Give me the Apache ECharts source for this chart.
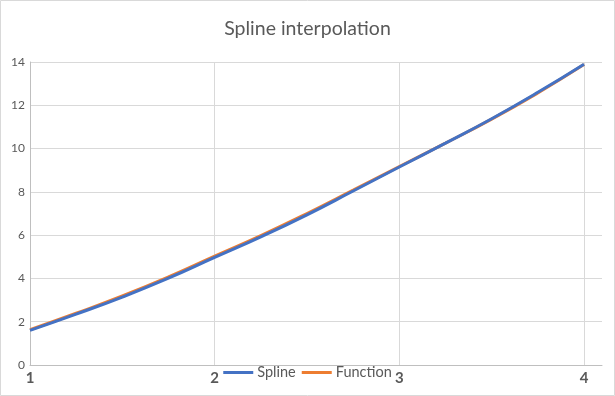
<!DOCTYPE html>
<html>
<head>
<meta charset="utf-8">
<script src="https://cdn.jsdelivr.net/npm/echarts@6/dist/echarts.min.js"></script>
<style>
html,body{margin:0;padding:0;background:#fff;}
#c{width:615px;height:396px;}
</style>
</head>
<body>
<div id="c"></div>
<script>
var titleText = 'Spline interpolation';
var xValues = [1, 1.25, 1.5, 1.75, 2, 2.25, 2.5, 2.75, 3, 3.25, 3.5, 3.75, 4];
var splineValues = [1.6, 2.35, 3.14, 4.01, 4.97, 5.92, 6.94, 8.04, 9.15, 10.25, 11.38, 12.6, 13.9];
var functionValues = [1.63, 2.39, 3.19, 4.07, 5.03, 5.98, 7.0, 8.08, 9.17, 10.25, 11.36, 12.57, 13.88];
var xTicks = [1, 2, 3, 4];
var yTicks = [0, 2, 4, 6, 8, 10, 12, 14];

function pairs(xs, ys){ return xs.map(function(x,i){ return [x, ys[i]]; }); }

var chart = echarts.init(document.getElementById('c'), null, {renderer:'canvas'});
var font = 'Lato, "Open Sans", sans-serif';
chart.setOption({
  animation:false,
  textStyle:{fontFamily:font},
  title:{text:titleText, left:'center', top:14,
    textStyle:{fontSize:19.5, fontWeight:'normal', color:'#595959', fontFamily:font}},
  graphic:[{type:'rect', silent:true, z:-10,
    shape:{x:0.5,y:0.5,width:614,height:395},
    style:{fill:null, stroke:'#d9d9d9', lineWidth:1}}],
  legend:{data:['Spline','Function'], left:'center', top:360,
    icon:'rect', itemWidth:30, itemHeight:3, itemGap:6,
    textStyle:{fontSize:14.5, color:'#595959', fontFamily:font, padding:[0,0,0,-1]}},
  grid:[
    {left:30, right:13, top:62, bottom:31},
    {left:30, right:31, top:62, bottom:31}
  ],
  xAxis:[
    {gridIndex:0, type:'value', min:1, max:4.1,
      axisLine:{show:true, lineStyle:{color:'#bfbfbf', width:1}},
      axisTick:{show:false}, axisLabel:{show:false}, splitLine:{show:false}},
    {gridIndex:1, type:'value', min:xTicks[0], max:xTicks[xTicks.length-1], interval:1,
      axisLine:{show:false}, axisTick:{show:false},
      axisLabel:{show:true, margin:6, fontSize:15, fontWeight:'bold', color:'#595959', fontFamily:font},
      splitLine:{show:true, lineStyle:{color:'#d9d9d9', width:1}}}
  ],
  yAxis:[
    {gridIndex:0, type:'value', min:yTicks[0], max:yTicks[yTicks.length-1], interval:2,
      axisLine:{show:true, lineStyle:{color:'#bfbfbf', width:1}},
      axisTick:{show:false},
      axisLabel:{margin:5, fontSize:12, color:'#595959', fontFamily:font},
      splitLine:{show:true, lineStyle:{color:'#d9d9d9', width:1}}},
    {gridIndex:1, type:'value', min:yTicks[0], max:yTicks[yTicks.length-1], show:false,
      splitLine:{show:false}}
  ],
  series:[
    {name:'Function', type:'line', xAxisIndex:1, yAxisIndex:1, smooth:true, showSymbol:false,
      data:pairs(xValues, functionValues), color:'#ED7D31',
      lineStyle:{color:'#ED7D31', width:3}},
    {name:'Spline', type:'line', xAxisIndex:1, yAxisIndex:1, smooth:true, showSymbol:false,
      data:pairs(xValues, splineValues), color:'#4472C4',
      lineStyle:{color:'#4472C4', width:3}}
  ]
});
</script>
</body>
</html>
